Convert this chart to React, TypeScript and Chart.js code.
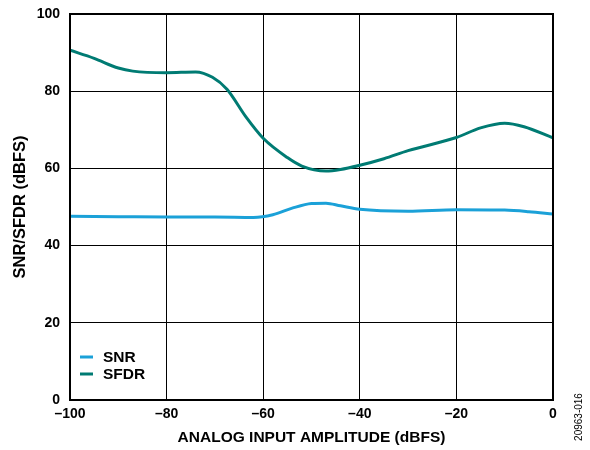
import React, { useEffect, useRef } from "react";
import { Chart, registerables } from "chart.js";

Chart.register(...registerables);

const sfdrX = [-100, -95, -90, -87, -80, -74, -70.5, -67.5, -63.5, -60, -55, -52, -47, -44, -40, -35, -30, -20, -15, -10, -6, 0];
const sfdrY = [90.6, 88.5, 86.0, 85.2, 84.8, 85.0, 83.6, 80.5, 73.2, 67.8, 62.8, 60.6, 59.3, 59.7, 60.8, 62.5, 64.6, 68.0, 70.5, 71.7, 70.8, 67.9];

const snrX = [-100, -90, -80, -70, -62, -58, -54, -50, -47, -44, -40, -30, -20, -10, -5, 0];
const snrY = [47.6, 47.5, 47.4, 47.4, 47.3, 48.0, 49.7, 50.9, 51.0, 50.3, 49.4, 48.9, 49.3, 49.2, 48.8, 48.2];

const seriesNames = ["SNR", "SFDR"];
const seriesColors = ["#1ba1d8", "#007b73"];
const xTitle = "ANALOG INPUT AMPLITUDE (dBFS)";
const yTitle = "SNR/SFDR (dBFS)";
const footnote = "20963-016";

const FONT = "'Liberation Sans', Arial, sans-serif";

const fmt = (v: number) => (v < 0 ? "\u2013" + Math.abs(v) : String(v));

export default function App() {
  const ref = useRef<HTMLCanvasElement | null>(null);
  useEffect(() => {
    document.body.style.margin = "0";
    if (!ref.current) return;
    const decor = {
      id: "decor",
      afterDraw(chart: any) {
        const { ctx, chartArea } = chart;
        ctx.save();
        ctx.strokeStyle = "#000";
        ctx.lineWidth = 2;
        ctx.strokeRect(chartArea.left, chartArea.top, chartArea.right - chartArea.left, chartArea.bottom - chartArea.top);
        // legend
        ctx.font = "bold 15.5px " + FONT;
        ctx.textBaseline = "middle";
        ctx.textAlign = "left";
        seriesNames.forEach((n, i) => {
          const y = chartArea.top + 343 + i * 17;
          ctx.strokeStyle = seriesColors[i];
          ctx.lineWidth = 3;
          ctx.beginPath();
          ctx.moveTo(chartArea.left + 10, y);
          ctx.lineTo(chartArea.left + 23, y);
          ctx.stroke();
          ctx.fillStyle = "#000";
          ctx.fillText(n, chartArea.left + 33, y + 1);
        });
        // footnote
        ctx.translate(579, 417);
        ctx.rotate(-Math.PI / 2);
        ctx.font = "10px " + FONT;
        ctx.textAlign = "center";
        ctx.fillStyle = "#000";
        ctx.fillText(footnote, 0, 0);
        ctx.restore();
      },
    };
    const chart = new Chart(ref.current, {
      type: "line",
      data: {
        datasets: [
          {
            label: seriesNames[0],
            data: snrX.map((x, i) => ({ x, y: snrY[i] })),
            borderColor: seriesColors[0],
            borderWidth: 3,
            pointRadius: 0,
            cubicInterpolationMode: "monotone",
          },
          {
            label: seriesNames[1],
            data: sfdrX.map((x, i) => ({ x, y: sfdrY[i] })),
            borderColor: seriesColors[1],
            borderWidth: 3,
            pointRadius: 0,
            cubicInterpolationMode: "monotone",
          },
        ],
      },
      options: {
        animation: false,
        responsive: false,
        layout: { padding: { top: 14, right: 37, left: 0, bottom: 0 } },
        plugins: { legend: { display: false }, tooltip: { enabled: false } },
        scales: {
          x: {
            type: "linear",
            min: -100,
            max: 0,
            afterFit: (s: any) => {
              s.height = 50;
              s.paddingLeft = 0;
              s.paddingRight = 0;
            },
            ticks: {
              stepSize: 20,
              color: "#000",
              font: { family: FONT, size: 14, weight: "bold" },
              padding: 6,
              callback: (v: any) => fmt(Number(v)),
              maxRotation: 0,
            },
            grid: { color: "#000", lineWidth: 1, drawTicks: false },
            border: { color: "#000", width: 2 },
            title: {
              display: true,
              text: xTitle,
              color: "#000",
              font: { family: FONT, size: 15.5, weight: "bold" },
              padding: { top: 0, bottom: 3 },
            },
          },
          y: {
            min: 0,
            max: 100,
            afterFit: (s: any) => {
              s.width = 70;
              s.paddingTop = 0;
              s.paddingBottom = 0;
            },
            ticks: {
              stepSize: 20,
              color: "#000",
              font: { family: FONT, size: 14, weight: "bold" },
              padding: 10,
              callback: (v: any) => fmt(Number(v)),
            },
            grid: { color: "#000", lineWidth: 1, drawTicks: false },
            border: { color: "#000", width: 2 },
            title: {
              display: true,
              text: yTitle,
              color: "#000",
              font: { family: FONT, size: 16.5, weight: "bold" },
              padding: { top: 11, bottom: 0 },
            },
          },
        },
      },
      plugins: [decor],
    } as any);
    return () => chart.destroy();
  }, []);
  return (
    <div style={{ width: 590, height: 450 }}>
      <canvas ref={ref} width={590} height={450} style={{ width: 590, height: 450 }} />
    </div>
  );
}
